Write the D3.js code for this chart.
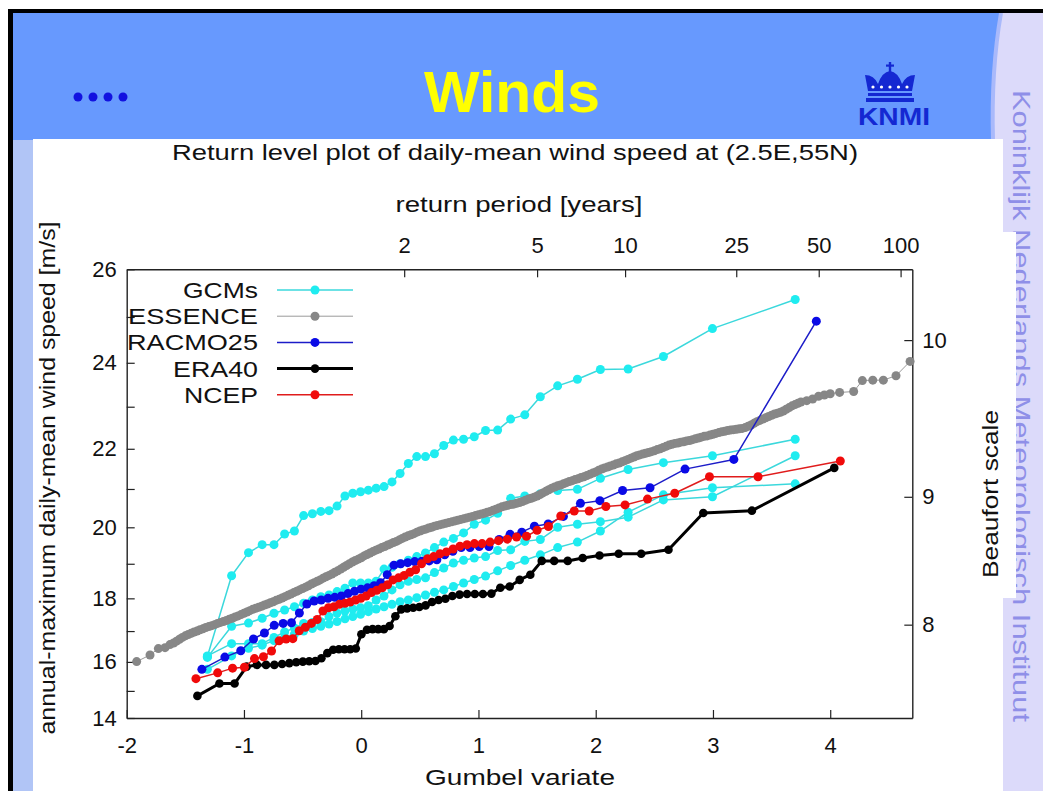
<!DOCTYPE html>
<html>
<head>
<meta charset="utf-8">
<script src="https://cdn.jsdelivr.net/npm/d3@7"></script>
<style>
  html, body { margin: 0; padding: 0; background: #fff; }
  svg { display: block; }
  text { font-family: "Liberation Sans", Arial, Helvetica, sans-serif; }
</style>
</head>
<body>
<svg id="slide" width="1043" height="791"></svg>
<script>
// ---------- axis definitions ----------
const gumbelTicks = [-2, -1, 0, 1, 2, 3, 4];
const speedTicks = [14, 15, 16, 17, 18, 19, 20, 21, 22, 23, 24, 25, 26];
const returnPeriods = [2, 5, 10, 25, 50, 100];
const beaufortLevels = [8, 9, 10];
const beaufortLowerSpeeds = [17.2, 20.8, 24.5];   // m/s where each Beaufort force begins

// ---------- series (annual maxima, sorted ascending, m/s) ----------
const seriesNames = ["GCMs", "ESSENCE", "RACMO25", "ERA40", "NCEP"];

const gcmA = [16.18, 18.66, 19.31, 19.53, 19.53, 19.82, 19.90, 20.31, 20.36, 20.42,
              20.44, 20.56, 20.82, 20.89, 20.93, 20.97, 21.02, 21.06, 21.18, 21.39,
              21.64, 21.81, 21.81, 21.88, 22.08, 22.21, 22.23, 22.29, 22.44, 22.45,
              22.71, 22.81, 23.23, 23.48, 23.63, 23.85, 23.86, 24.14, 24.75, 25.37];
const gcmB = [16.15, 17.15, 17.25, 17.40, 17.55, 17.65, 17.75, 17.85, 17.95, 18.05,
              18.10, 18.20, 18.30, 18.45, 18.45, 18.45, 18.50, 18.85, 18.90, 19.00,
              19.10, 19.20, 19.30, 19.45, 19.60, 19.70, 19.85, 20.08, 20.19, 20.37,
              20.76, 20.82, 20.88, 20.96, 20.99, 21.27, 21.49, 21.66, 21.83, 22.23];
const gcmC = [16.20, 16.60, 16.60, 16.60, 16.80, 16.97, 17.10, 17.24, 17.27, 17.29,
              17.45, 17.56, 17.62, 17.68, 17.72, 17.78, 17.95, 18.07, 18.25, 18.40,
              18.50, 18.55, 18.60, 18.75, 18.88, 19.02, 19.10, 19.16, 19.20, 19.37,
              19.39, 19.62, 19.67, 20.00, 20.08, 20.15, 20.27, 20.72, 20.80, 21.83];
const gcmD = [15.75, 16.20, 16.45, 16.55, 16.70, 16.80, 16.90, 17.00, 17.08, 17.15,
              17.22, 17.30, 17.38, 17.45, 17.52, 17.60, 17.68, 17.75, 17.82, 17.90,
              17.95, 18.02, 18.10, 18.18, 18.25, 18.35, 18.45, 18.55, 18.65, 18.80,
              18.95, 19.10, 19.25, 19.45, 19.60, 19.90, 20.40, 20.85, 21.03, 21.13];

const racmo25 = [15.75, 16.16, 16.37, 16.75, 16.94, 17.18, 17.24, 17.26, 17.56, 17.83,
                 17.92, 17.95, 18.00, 18.03, 18.07, 18.14, 18.21, 18.27, 18.31, 18.37,
                 18.46, 18.69, 18.96, 19.00, 19.03, 19.06, 19.07, 19.08, 19.11, 19.25,
                 19.35, 19.45, 19.45, 19.48, 19.48, 19.67, 19.81, 19.87, 20.03, 20.09,
                 20.29, 20.63, 20.70, 20.96, 21.03, 21.50, 21.74, 24.91];

const era40 = [14.82, 15.26, 15.26, 15.84, 15.90, 15.90, 15.90, 15.93, 15.96, 15.99,
               16.01, 16.02, 16.03, 16.12, 16.29, 16.40, 16.42, 16.42, 16.42, 16.44,
               16.90, 17.04, 17.06, 17.06, 17.06, 17.16, 17.46, 17.67, 17.70, 17.72,
               17.74, 17.79, 17.89, 17.95, 17.99, 18.07, 18.11, 18.13, 18.13, 18.13,
               18.14, 18.31, 18.35, 18.54, 18.69, 19.08, 19.08, 19.08, 19.16, 19.23,
               19.28, 19.28, 19.39, 20.38, 20.44, 21.53];

const ncep = [15.43, 15.63, 15.79, 15.82, 16.11, 16.17, 16.36, 16.69, 16.75, 16.76,
              17.01, 17.12, 17.24, 17.36, 17.62, 17.72, 17.75, 17.82, 17.85, 17.89,
              17.95, 18.00, 18.07, 18.17, 18.24, 18.31, 18.40, 18.54, 18.60, 18.67,
              18.76, 18.83, 19.00, 19.14, 19.20, 19.28, 19.33, 19.41, 19.49, 19.53,
              19.56, 19.56, 19.60, 19.64, 19.68, 19.74, 19.76, 19.92, 20.02, 20.30,
              20.43, 20.43, 20.55, 20.59, 20.74, 20.89, 21.31, 21.31, 21.70];

// ESSENCE ensemble: large pooled sample, given as (Gumbel variate, speed) pairs
const essenceGumbel = [-1.915, -1.801, -1.730, -1.673, -1.631,
  -1.600, -1.575, -1.550, -1.525, -1.500, -1.475, -1.450, -1.425, -1.400, -1.375,
  -1.350, -1.325, -1.300, -1.275, -1.250, -1.225, -1.200, -1.175, -1.150, -1.125,
  -1.100, -1.075, -1.050, -1.025, -1.000, -0.975, -0.950, -0.925, -0.900, -0.875,
  -0.850, -0.825, -0.800, -0.775, -0.750, -0.725, -0.700, -0.675, -0.650, -0.625,
  -0.600, -0.575, -0.550, -0.525, -0.500, -0.475, -0.450, -0.425, -0.400, -0.375,
  -0.350, -0.325, -0.300, -0.275, -0.250, -0.225, -0.200, -0.175, -0.150, -0.125,
  -0.100, -0.075, -0.050, -0.025, 0.000, 0.025, 0.050, 0.075, 0.100, 0.125,
  0.150, 0.175, 0.200, 0.225, 0.250, 0.275, 0.300, 0.325, 0.350, 0.375,
  0.400, 0.425, 0.450, 0.475, 0.500, 0.525, 0.550, 0.575, 0.600, 0.625,
  0.650, 0.675, 0.700, 0.725, 0.750, 0.775, 0.800, 0.825, 0.850, 0.875,
  0.900, 0.925, 0.950, 0.975, 1.000, 1.025, 1.050, 1.075, 1.100, 1.125,
  1.150, 1.175, 1.200, 1.225, 1.250, 1.275, 1.300, 1.325, 1.350, 1.375,
  1.400, 1.425, 1.450, 1.475, 1.500, 1.525, 1.550, 1.575, 1.600, 1.625,
  1.650, 1.675, 1.700, 1.725, 1.750, 1.775, 1.800, 1.825, 1.850, 1.875,
  1.900, 1.925, 1.950, 1.975, 2.000, 2.025, 2.050, 2.075, 2.100, 2.125,
  2.150, 2.175, 2.200, 2.225, 2.250, 2.275, 2.300, 2.325, 2.350, 2.375,
  2.400, 2.425, 2.450, 2.475, 2.500, 2.525, 2.550, 2.575, 2.600, 2.625,
  2.650, 2.675, 2.700, 2.725, 2.750, 2.775, 2.800, 2.825, 2.850, 2.875,
  2.900, 2.925, 2.950, 2.975, 3.000, 3.025, 3.050, 3.075, 3.100, 3.125,
  3.150, 3.175, 3.200, 3.225, 3.250, 3.275, 3.300, 3.325, 3.350, 3.375,
  3.400, 3.425, 3.450, 3.475, 3.500, 3.525, 3.550, 3.575, 3.600, 3.625,
  3.650, 3.675, 3.700, 3.725, 3.750, 3.800, 3.850, 3.900, 3.950, 4.000,
  4.080, 4.200, 4.274, 4.363, 4.453, 4.561, 4.681];
const essenceSpeed = [16.01, 16.23, 16.44, 16.47, 16.57,
  16.62, 16.68, 16.74, 16.80, 16.85, 16.89, 16.93, 16.97, 17.00, 17.04,
  17.07, 17.11, 17.14, 17.17, 17.20, 17.24, 17.27, 17.30, 17.33, 17.37,
  17.40, 17.44, 17.47, 17.51, 17.55, 17.59, 17.63, 17.67, 17.70, 17.73,
  17.76, 17.80, 17.83, 17.87, 17.90, 17.94, 17.97, 18.01, 18.05, 18.09,
  18.13, 18.17, 18.21, 18.25, 18.29, 18.33, 18.37, 18.42, 18.46, 18.50,
  18.54, 18.59, 18.63, 18.67, 18.71, 18.76, 18.80, 18.85, 18.90, 18.95,
  19.00, 19.05, 19.09, 19.13, 19.17, 19.22, 19.26, 19.30, 19.34, 19.38,
  19.41, 19.45, 19.48, 19.52, 19.55, 19.59, 19.62, 19.66, 19.70, 19.74,
  19.77, 19.80, 19.83, 19.87, 19.90, 19.93, 19.95, 19.98, 20.00, 20.03,
  20.05, 20.07, 20.09, 20.11, 20.13, 20.15, 20.17, 20.19, 20.21, 20.23,
  20.25, 20.27, 20.29, 20.31, 20.33, 20.35, 20.37, 20.40, 20.42, 20.45,
  20.48, 20.51, 20.54, 20.56, 20.58, 20.60, 20.61, 20.63, 20.65, 20.68,
  20.71, 20.74, 20.76, 20.79, 20.82, 20.86, 20.90, 20.94, 20.98, 21.02,
  21.05, 21.08, 21.10, 21.13, 21.16, 21.19, 21.21, 21.24, 21.26, 21.29,
  21.31, 21.34, 21.37, 21.40, 21.43, 21.47, 21.50, 21.53, 21.55, 21.58,
  21.60, 21.63, 21.65, 21.68, 21.71, 21.74, 21.77, 21.80, 21.83, 21.85,
  21.87, 21.89, 21.91, 21.93, 21.95, 21.98, 22.00, 22.03, 22.06, 22.09,
  22.11, 22.13, 22.14, 22.16, 22.17, 22.19, 22.20, 22.22, 22.24, 22.26,
  22.28, 22.30, 22.31, 22.33, 22.35, 22.37, 22.39, 22.41, 22.42, 22.44,
  22.45, 22.46, 22.47, 22.48, 22.49, 22.51, 22.54, 22.57, 22.61, 22.65,
  22.68, 22.71, 22.74, 22.77, 22.80, 22.83, 22.85, 22.87, 22.90, 22.94,
  22.98, 23.02, 23.05, 23.08, 23.11, 23.14, 23.18, 23.24, 23.27, 23.30,
  23.33, 23.35, 23.60, 23.61, 23.61, 23.71, 24.03];

// ---------- helpers ----------
// Weibull plotting position i/(n+1) expressed as a Gumbel reduced variate
const plottingVariate = (i, n) => -Math.log(-Math.log(i / (n + 1)));
const returnPeriodVariate = T => -Math.log(-Math.log(1 - 1 / T));
const rankSeries = values => values.map((v, k) => ({ g: plottingVariate(k + 1, values.length), v }));

const FONT = "'Liberation Sans', Arial, Helvetica, sans-serif";
const svg = d3.select("#slide");

// ---------- slide frame ----------
svg.append("rect").attr("width", 1043).attr("height", 791).attr("fill", "#ffffff");
svg.append("rect").attr("x", 13).attr("y", 13).attr("width", 1030).attr("height", 778).attr("fill", "#b1c5f6");
svg.append("rect").attr("x", 13).attr("y", 13).attr("width", 995).attr("height", 127).attr("fill", "#6799fe");
// lavender side band with curved edge
svg.append("path")
  .attr("d", "M1001,13 Q991,70 993,140 L993,791 L1043,791 L1043,13 Z")
  .attr("fill", "#dcdafa");
svg.append("path")
  .attr("d", "M1001,13 Q991,70 993,140")
  .attr("fill", "none").attr("stroke", "#a9b9fb").attr("stroke-width", 4);
svg.append("text")
  .attr("transform", "translate(1013,90) rotate(90)")
  .attr("font-size", 24).attr("fill", "#8f8fe8")
  .attr("textLength", 632).attr("lengthAdjust", "spacingAndGlyphs")
  .text("Koninklijk Nederlands Meteorologisch Instituut");
// black window edge
svg.append("rect").attr("x", 8).attr("y", 9).attr("width", 1035).attr("height", 4).attr("fill", "#000");
svg.append("rect").attr("x", 8).attr("y", 9).attr("width", 5).attr("height", 782).attr("fill", "#000");

// header: bullets, title, logo
svg.append("g").selectAll("circle").data([0, 1, 2, 3]).join("circle")
  .attr("cx", d => 78 + d * 15).attr("cy", 97).attr("r", 4.5).attr("fill", "#1212e0");
svg.append("text").attr("x", 512).attr("y", 112).attr("text-anchor", "middle")
  .attr("font-size", 58).attr("font-weight", "bold").attr("fill", "#ffff00")
  .attr("textLength", 176).attr("lengthAdjust", "spacingAndGlyphs").text("Winds");

const logo = svg.append("g").attr("fill", "#1428d2");
logo.append("rect").attr("x", 888.8).attr("y", 62).attr("width", 2.4).attr("height", 10);
logo.append("rect").attr("x", 886).attr("y", 64.5).attr("width", 8).attr("height", 2.2);
logo.append("path").attr("d",
  "M868,91 L865,75 Q874,75 878,84 Q882,72 890,71 Q898,72 902,84 Q906,75 915,75 L912,91 Z");
logo.append("rect").attr("x", 868).attr("y", 93).attr("width", 44).attr("height", 3);
logo.append("rect").attr("x", 866).attr("y", 98).attr("width", 48).attr("height", 4);
logo.append("g").selectAll("circle").data([0, 1, 2, 3, 4]).join("circle")
  .attr("cx", d => 873 + d * 8.5).attr("cy", 87).attr("r", 1.6).attr("fill", "#ffffff");
svg.append("text").attr("x", 858).attr("y", 125)
  .attr("font-size", 24).attr("font-weight", "bold").attr("fill", "#1428d2")
  .attr("textLength", 72).attr("lengthAdjust", "spacingAndGlyphs").text("KNMI");

// white chart panel (its right margin hides the middle of the side caption)
svg.append("rect").attr("x", 33).attr("y", 139).attr("width", 970).attr("height", 652).attr("fill", "#ffffff");
svg.append("rect").attr("x", 1003).attr("y", 232).attr("width", 13).attr("height", 366).attr("fill", "#ffffff");

// ---------- chart ----------
const x = d3.scaleLinear().domain([-2, 4.7]).range([126.7, 912.3]);
const y = d3.scalePow().exponent(2).domain([14, 26]).range([718, 269.3]);
const TICK = 8;

const chart = svg.append("g").attr("font-family", FONT);

chart.append("text").attr("x", 515).attr("y", 160).attr("text-anchor", "middle")
  .attr("font-size", 22).attr("fill", "#111")
  .attr("textLength", 686).attr("lengthAdjust", "spacingAndGlyphs")
  .text("Return level plot of daily-mean wind speed at (2.5E,55N)");
chart.append("text").attr("x", 519).attr("y", 212).attr("text-anchor", "middle")
  .attr("font-size", 22).attr("fill", "#111")
  .attr("textLength", 247).attr("lengthAdjust", "spacingAndGlyphs")
  .text("return period [years]");
chart.append("text").attr("x", 520).attr("y", 785).attr("text-anchor", "middle")
  .attr("font-size", 22).attr("fill", "#111")
  .attr("textLength", 190).attr("lengthAdjust", "spacingAndGlyphs")
  .text("Gumbel variate");
chart.append("text").attr("transform", "translate(55,478) rotate(-90)").attr("text-anchor", "middle")
  .attr("font-size", 22).attr("fill", "#111")
  .attr("textLength", 513).attr("lengthAdjust", "spacingAndGlyphs")
  .text("annual-maximum daily-mean wind speed [m/s]");
chart.append("text").attr("transform", "translate(998,494) rotate(-90)").attr("text-anchor", "middle")
  .attr("font-size", 22).attr("fill", "#111")
  .attr("textLength", 168).attr("lengthAdjust", "spacingAndGlyphs")
  .text("Beaufort scale");

function styleAxis(g) {
  g.attr("font-family", FONT).attr("font-size", 22);
  g.select(".domain").attr("stroke", "#222").attr("stroke-width", 1.4);
  g.selectAll(".tick line").attr("stroke", "#222").attr("stroke-width", 1.2);
  g.selectAll(".tick text").attr("fill", "#111");
}

chart.append("g").attr("transform", `translate(0,${y(14)})`)
  .call(d3.axisBottom(x).tickValues(gumbelTicks).tickFormat(d => String(d))
    .tickSizeInner(-TICK).tickSizeOuter(0).tickPadding(19))
  .call(styleAxis);
chart.append("g").attr("transform", `translate(0,${y(26)})`)
  .call(d3.axisTop(x).tickValues(returnPeriods.map(returnPeriodVariate))
    .tickFormat((d, i) => String(returnPeriods[i]))
    .tickSizeInner(-TICK).tickSizeOuter(0).tickPadding(16))
  .call(styleAxis);
chart.append("g").attr("transform", `translate(${x(-2)},0)`)
  .call(d3.axisLeft(y).tickValues(speedTicks).tickFormat(d => d % 2 === 0 ? String(d) : "")
    .tickSizeInner(-TICK).tickSizeOuter(0).tickPadding(10))
  .call(styleAxis);
chart.append("g").attr("transform", `translate(${x(4.7)},0)`)
  .call(d3.axisRight(y).tickValues(beaufortLowerSpeeds)
    .tickFormat((d, i) => String(beaufortLevels[i]))
    .tickSizeInner(-TICK).tickSizeOuter(0).tickPadding(10))
  .call(styleAxis);

// ---------- series ----------
const styles = {
  GCMs:    { line: "#3bd8dc", dot: "#1fecf0", width: 1.5, r: 4.5 },
  ESSENCE: { line: "#9a9a9a", dot: "#878787", width: 1.0, r: 4.5 },
  RACMO25: { line: "#1c1cc8", dot: "#0a0ae6", width: 1.5, r: 4.5 },
  ERA40:   { line: "#000000", dot: "#000000", width: 3.0, r: 4.3 },
  NCEP:    { line: "#e01c1c", dot: "#f00a0a", width: 1.5, r: 4.5 }
};

const lineGen = d3.line().x(d => x(d.g)).y(d => y(d.v));
const plot = chart.append("g");

function drawSeries(points, name) {
  const s = styles[name];
  const g = plot.append("g");
  g.append("path").datum(points).attr("d", lineGen)
    .attr("fill", "none").attr("stroke", s.line).attr("stroke-width", s.width)
    .attr("stroke-linejoin", "round");
  g.selectAll("circle").data(points).join("circle")
    .attr("cx", d => x(d.g)).attr("cy", d => y(d.v)).attr("r", s.r).attr("fill", s.dot);
}

[gcmA, gcmB, gcmC, gcmD].forEach(vals => drawSeries(rankSeries(vals), "GCMs"));
drawSeries(essenceGumbel.map((g, k) => ({ g, v: essenceSpeed[k] })), "ESSENCE");
drawSeries(rankSeries(racmo25), "RACMO25");
drawSeries(rankSeries(era40), "ERA40");
drawSeries(rankSeries(ncep), "NCEP");

// ---------- legend ----------
const legendWidths = { GCMs: 75, ESSENCE: 130, RACMO25: 131, ERA40: 85, NCEP: 74 };
const legend = chart.append("g");
seriesNames.forEach((name, k) => {
  const cy = 290 + k * 26.2;
  const s = styles[name];
  legend.append("text").attr("x", 258).attr("y", cy + 8).attr("text-anchor", "end")
    .attr("font-size", 22).attr("fill", "#111")
    .attr("textLength", legendWidths[name]).attr("lengthAdjust", "spacingAndGlyphs")
    .text(name);
  legend.append("line").attr("x1", 277).attr("x2", 353).attr("y1", cy).attr("y2", cy)
    .attr("stroke", s.line).attr("stroke-width", s.width);
  legend.append("circle").attr("cx", 315).attr("cy", cy).attr("r", s.r).attr("fill", s.dot);
});
</script>
</body>
</html>
